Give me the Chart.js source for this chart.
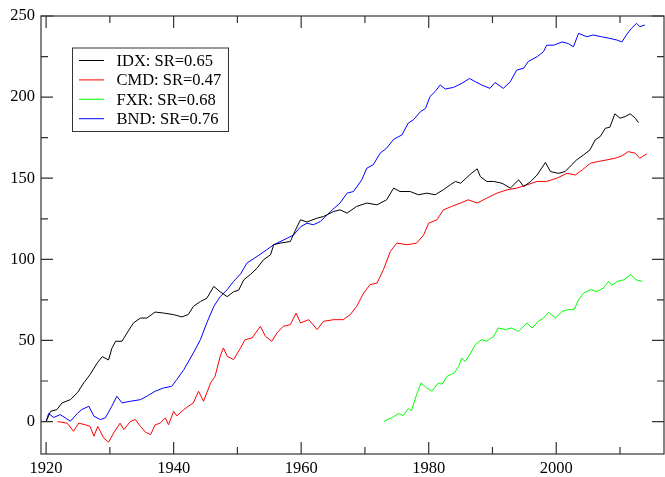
<!DOCTYPE html>
<html>
<head>
<meta charset="utf-8">
<script src="https://cdn.jsdelivr.net/npm/chart.js@4.4.1/dist/chart.umd.min.js"></script>
<style>
  html, body { margin: 0; padding: 0; background: #fff; }
  canvas { display: block; }
</style>
</head>
<body>
<canvas id="grafico" width="665" height="477"></canvas>
<script>
// series (year, value)
const idxYears = [1920, 1920.7, 1921.7, 1922.5, 1923.8, 1924.9, 1925.9, 1926.9, 1928, 1928.8, 1929.8, 1930.3, 1930.9, 1931.9, 1932.7, 1933.7, 1934.8, 1935.8, 1937.1, 1938.4, 1940, 1941.3, 1942.3, 1943.1, 1944.2, 1945.2, 1946.3, 1947.3, 1948.4, 1949.4, 1950.2, 1951, 1952, 1953.1, 1954.1, 1955.2, 1955.7, 1956.7, 1958.3, 1959.1, 1959.9, 1960.9, 1962.5, 1963.5, 1965.1, 1966.1, 1967.2, 1968.7, 1970.3, 1971.9, 1973.4, 1974.5, 1975.5, 1977.1, 1978.4, 1979.7, 1981, 1982.3, 1983.4, 1984.2, 1985, 1986.6, 1987.6, 1988.1, 1989.1, 1990.2, 1991.5, 1992.8, 1994.1, 1994.9, 1996, 1997, 1998.3, 1999.1, 2000.3, 2001.4, 2002.4, 2003.2, 2004.3, 2005.3, 2006.1, 2006.9, 2007.7, 2008.4, 2009.2, 2010, 2010.8, 2011.6, 2012.4, 2012.9];
const idxValues = [0, 6.3, 7.4, 11.5, 13.5, 17.7, 23.8, 29, 36, 40, 38, 45, 49.5, 49.5, 54.6, 60.8, 63.8, 63.8, 67.5, 66.9, 65.9, 64.5, 66, 71, 74, 76, 83.3, 80, 77, 80, 81, 87.4, 90.5, 94.6, 99.8, 102.8, 109, 110, 111, 118, 124.4, 123, 125.4, 126.4, 129.5, 130.5, 128.5, 132.6, 134.7, 133.6, 136.7, 143.9, 141.8, 141.8, 139.8, 140.8, 139.8, 142.9, 146, 148, 146.9, 152.7, 155.8, 151, 148, 148, 146.9, 143.9, 149, 144.9, 148, 152, 159.7, 154.1, 153, 154.1, 158.2, 161.3, 164.4, 167.5, 173.6, 175.7, 180.8, 181.4, 189.7, 187, 188, 189.7, 187, 184.3];

const cmdYears = [1921.8, 1923.3, 1924.3, 1925.1, 1926.2, 1926.9, 1927.5, 1928.1, 1928.5, 1929, 1929.8, 1930.6, 1931.6, 1932.2, 1933.2, 1934, 1934.8, 1935.6, 1936.4, 1937.1, 1937.9, 1938.7, 1939.2, 1940, 1940.5, 1941.6, 1942.3, 1943.1, 1943.9, 1944.7, 1945.2, 1945.8, 1946.5, 1947.3, 1947.8, 1948.4, 1949.4, 1950.5, 1951.2, 1952.3, 1953.6, 1954.4, 1955.4, 1956.2, 1957.2, 1958.3, 1959.2, 1959.9, 1961.2, 1962.5, 1963.5, 1965.1, 1966.6, 1967.7, 1968.7, 1969.8, 1970.8, 1971.9, 1972.9, 1974, 1975, 1976.6, 1978.1, 1979.2, 1980, 1981.3, 1982.3, 1983.6, 1985, 1986.2, 1987.6, 1989.1, 1990.7, 1992.3, 1993.8, 1995.4, 1997, 1998.5, 2000.1, 2001.7, 2003, 2004.1, 2005.4, 2006.6, 2007.9, 2009.2, 2010.3, 2011.3, 2012.4, 2013.1, 2014.2];
const cmdValues = [0, -1, -6, -1, -2, -3, -9, -3, -6, -10, -12.7, -7, -1, -5, 0, 1.2, -3, -6.6, -8, -2, -1, 2.3, -2, 6.3, 3.5, 7.4, 9.4, 11.5, 18.7, 12.5, 17.7, 23.8, 27.9, 40.2, 45.4, 40.2, 38.2, 45.4, 50.5, 51.5, 58.7, 52.5, 49.5, 54.6, 58.7, 59.7, 66.9, 60.8, 62.8, 56.7, 61.8, 62.8, 62.8, 65.9, 71, 79.2, 84.4, 85.4, 93.6, 105, 110, 109, 110, 115, 122.3, 124.4, 130.5, 132.6, 134.7, 136.7, 134.7, 137.7, 140.8, 142.9, 143.9, 145.9, 148, 148, 150, 153, 152, 155.2, 159.3, 160.3, 161.3, 162.3, 163.8, 166.4, 165.4, 162.3, 165];

const fxrYears = [1973, 1974.2, 1975.3, 1976, 1976.8, 1977.3, 1978.1, 1978.8, 1979.7, 1980.5, 1981.5, 1982.1, 1982.9, 1984, 1984.7, 1985.2, 1985.7, 1986.6, 1987.3, 1988.3, 1989.1, 1990.2, 1990.9, 1992, 1993, 1994.1, 1995.4, 1996.2, 1997.2, 1998, 1998.8, 1999.9, 2000.9, 2001.9, 2002.8, 2003.5, 2004.3, 2005.4, 2006.4, 2007.4, 2008.2, 2008.7, 2009.6, 2010.6, 2011.7, 2012.5, 2013.5];
const fxrValues = [0.2, 2.3, 5, 3.7, 8, 6.7, 16.6, 23.8, 20.7, 18.7, 23.8, 23, 27.9, 30, 34, 39.2, 37, 42.3, 47.4, 50.5, 49.5, 52.5, 57.7, 56.7, 57.7, 55.6, 60.8, 57.7, 61.8, 63.8, 67.3, 63.8, 67.9, 69, 69, 75, 79.2, 81.3, 80.2, 82.3, 86.4, 84, 86.4, 87.4, 90.5, 87.4, 86.4];

const bndYears = [1920, 1920.4, 1921.2, 1922.2, 1923, 1923.8, 1924.9, 1925.6, 1926.7, 1927.5, 1928.5, 1929.3, 1930.3, 1931.1, 1931.9, 1933.2, 1934.8, 1935.8, 1937.1, 1938.4, 1939.7, 1940.5, 1941.6, 1943.1, 1944.2, 1945.2, 1946.3, 1947.3, 1948.4, 1949.4, 1950.5, 1951.5, 1953.1, 1954.6, 1955.7, 1957.8, 1958.8, 1959.9, 1960.9, 1961.9, 1963, 1964.6, 1966.1, 1967.2, 1968.2, 1969.5, 1970.3, 1971.3, 1972.4, 1973.4, 1974.5, 1975.8, 1976.8, 1977.6, 1978.7, 1979.5, 1980.2, 1981, 1981.8, 1982.6, 1983.9, 1985.2, 1986.4, 1987.3, 1988.3, 1989.6, 1990.4, 1991.7, 1992.8, 1993.8, 1994.9, 1995.6, 1997, 1998, 1998.5, 1999.6, 2000.9, 2001.9, 2002.7, 2003.5, 2004.8, 2005.8, 2007.1, 2008.4, 2009.5, 2010.3, 2011, 2011.8, 2012.6, 2013.1, 2013.9];
const bndValues = [0, 5, 2.5, 4.3, 2.3, 0.2, 5, 7.4, 9.4, 3.3, 1.2, 2.3, 9.4, 15.6, 11.5, 12.5, 13.5, 15.6, 18.7, 20.7, 21.7, 25.9, 32, 42.3, 50.5, 60.8, 71, 77, 81.3, 86.4, 91, 97.7, 101.8, 105.9, 109, 113, 115, 120, 122.3, 121.3, 123.3, 129.5, 134.7, 140.8, 141.8, 149, 156.2, 158.3, 165.5, 168.5, 174, 176.7, 184, 186, 191, 193, 200.3, 203.4, 207.5, 205, 206, 208.5, 211.5, 209.5, 207.5, 205.4, 209, 205.4, 209.5, 216.7, 217.8, 221.9, 224.9, 228, 232, 232, 234, 233, 231, 239.3, 237.2, 238.3, 237.2, 236.2, 235.2, 234, 238.3, 242.4, 245.5, 243.4, 244.5];

const seriesLabels = ['IDX: SR=0.65', 'CMD: SR=0.47', 'FXR: SR=0.68', 'BND: SR=0.76'];

// axis ticks
const xMajor = [1920, 1940, 1960, 1980, 2000];
const xMinor = [1930, 1950, 1970, 1990, 2010];
const yMajor = [0, 50, 100, 150, 200, 250];
const yMinor = [25, 75, 125, 175, 225];

const fonte = '"Liberation Serif", "Times New Roman", serif';

function pares(anos, valores) {
  return anos.map((a, i) => ({ x: a, y: valores[i] }));
}

// frame, inward ticks and the boxed legend
const moldura = {
  id: 'moldura',
  afterDatasetsDraw(chart) {
    const ctx = chart.ctx;
    const a = chart.chartArea;
    const sx = chart.scales.x, sy = chart.scales.y;
    ctx.save();
    ctx.strokeStyle = '#333';
    ctx.lineWidth = 1.2;
    ctx.strokeRect(a.left, a.top, a.right - a.left, a.bottom - a.top);

    ctx.beginPath();
    const marcaX = (v, len) => {
      const p = sx.getPixelForValue(v);
      ctx.moveTo(p, a.bottom); ctx.lineTo(p, a.bottom - len);
      ctx.moveTo(p, a.top); ctx.lineTo(p, a.top + len);
    };
    const marcaY = (v, len) => {
      const p = sy.getPixelForValue(v);
      ctx.moveTo(a.left, p); ctx.lineTo(a.left + len, p);
      ctx.moveTo(a.right, p); ctx.lineTo(a.right - len, p);
    };
    xMajor.forEach(v => marcaX(v, 12));
    xMinor.forEach(v => marcaX(v, 7));
    yMajor.forEach(v => marcaY(v, 12));
    yMinor.forEach(v => marcaY(v, 7));
    ctx.stroke();

    // legend
    const bx = 72, by = 47.5, bw = 156, bh = 83.5;
    ctx.fillStyle = '#fff';
    ctx.fillRect(bx, by, bw, bh);
    ctx.strokeStyle = '#333';
    ctx.lineWidth = 1;
    ctx.strokeRect(bx + 0.5, by + 0.5, bw, bh);
    ctx.font = '16.5px ' + fonte;
    ctx.textBaseline = 'middle';
    ctx.textAlign = 'left';
    chart.data.datasets.forEach((ds, i) => {
      const yy = 60.5 + i * 19.4;
      ctx.strokeStyle = ds.borderColor;
      ctx.lineWidth = 1;
      ctx.beginPath();
      ctx.moveTo(79, yy); ctx.lineTo(104, yy);
      ctx.stroke();
      ctx.fillStyle = '#000';
      ctx.fillText(ds.label, 116.5, yy + 1);
    });
    ctx.restore();
  }
};

const ctx = document.getElementById('grafico').getContext('2d');
new Chart(ctx, {
  type: 'line',
  data: {
    datasets: [
      { label: seriesLabels[0], data: pares(idxYears, idxValues), borderColor: '#000000' },
      { label: seriesLabels[1], data: pares(cmdYears, cmdValues), borderColor: '#ff0000' },
      { label: seriesLabels[2], data: pares(fxrYears, fxrValues), borderColor: '#00ff00' },
      { label: seriesLabels[3], data: pares(bndYears, bndValues), borderColor: '#0000ff' }
    ].map(d => Object.assign(d, { borderWidth: 1, pointRadius: 0, tension: 0, fill: false }))
  },
  options: {
    responsive: false,
    animation: false,
    devicePixelRatio: 1,
    layout: { padding: { top: 16, right: 1, left: 0, bottom: 0 } },
    plugins: {
      legend: { display: false },
      tooltip: { enabled: false }
    },
    scales: {
      x: {
        type: 'linear',
        min: 1919.2,
        max: 2016.9,
        grid: { display: false, drawTicks: false },
        border: { display: false },
        afterBuildTicks: s => { s.ticks = xMajor.map(v => ({ value: v })); },
        afterFit: s => { s.height = 23; },
        ticks: {
          padding: 5,
          maxRotation: 0,
          color: '#000',
          font: { family: fonte, size: 16.5 },
          callback: v => String(v)
        }
      },
      y: {
        type: 'linear',
        min: -20,
        max: 250,
        grid: { display: false, drawTicks: false },
        border: { display: false },
        afterBuildTicks: s => { s.ticks = yMajor.map(v => ({ value: v })); },
        afterFit: s => { s.width = 41; },
        ticks: {
          padding: 6,
          color: '#000',
          font: { family: fonte, size: 16.5 },
          callback: v => String(v)
        }
      }
    }
  },
  plugins: [moldura]
});
</script>
</body>
</html>
